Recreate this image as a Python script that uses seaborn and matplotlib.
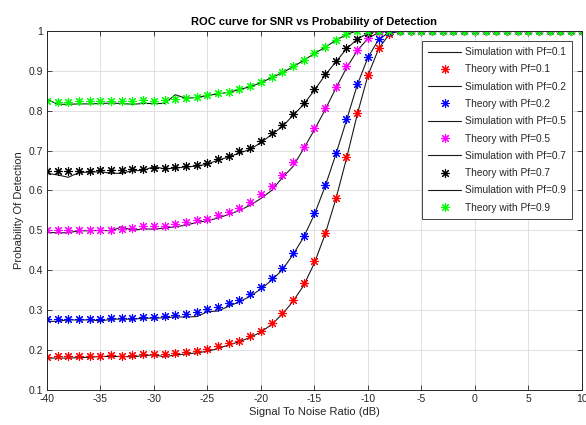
import matplotlib
matplotlib.use("Agg")
import matplotlib.pyplot as plt
from matplotlib.ticker import FormatStrFormatter
import seaborn as sns

# SNR axis (dB), one marker per integer dB
snr = list(range(-40, 11))

# Pf = 0.1
sim_01 = [0.180, 0.180, 0.180, 0.181, 0.182, 0.184, 0.184, 0.184, 0.183, 0.186,
          0.188, 0.183, 0.188, 0.190, 0.193, 0.197, 0.204, 0.213, 0.221, 0.232,
          0.245, 0.264, 0.290, 0.322, 0.362, 0.418, 0.490, 0.578, 0.680, 0.790,
          0.888, 0.955, 0.992, 1.0, 1.0, 1.0, 1.0, 1.0, 1.0, 1.0,
          1.0, 1.0, 1.0, 1.0, 1.0, 1.0, 1.0, 1.0, 1.0, 1.0, 1.0]
th_01 = [0.183, 0.184, 0.184, 0.184, 0.185, 0.185, 0.188, 0.185, 0.188, 0.190,
         0.190, 0.190, 0.192, 0.195, 0.198, 0.202, 0.209, 0.217, 0.224, 0.236,
         0.249, 0.268, 0.293, 0.326, 0.367, 0.424, 0.494, 0.582, 0.684, 0.793,
         0.890, 0.957, 0.993, 1.0, 1.0, 1.0, 1.0, 1.0, 1.0, 1.0,
         1.0, 1.0, 1.0, 1.0, 1.0, 1.0, 1.0, 1.0, 1.0, 1.0, 1.0]

# Pf = 0.2
sim_02 = [0.272, 0.272, 0.276, 0.275, 0.276, 0.273, 0.277, 0.278, 0.277, 0.280,
          0.280, 0.281, 0.283, 0.283, 0.284, 0.296, 0.298, 0.310, 0.321, 0.335,
          0.353, 0.375, 0.401, 0.439, 0.483, 0.540, 0.610, 0.690, 0.776, 0.864,
          0.933, 0.978, 0.997, 1.0, 1.0, 1.0, 1.0, 1.0, 1.0, 1.0,
          1.0, 1.0, 1.0, 1.0, 1.0, 1.0, 1.0, 1.0, 1.0, 1.0, 1.0]
th_02 = [0.278, 0.278, 0.278, 0.278, 0.278, 0.278, 0.281, 0.281, 0.281, 0.284,
         0.284, 0.285, 0.288, 0.290, 0.296, 0.302, 0.307, 0.318, 0.326, 0.340,
         0.358, 0.380, 0.406, 0.443, 0.487, 0.544, 0.614, 0.694, 0.780, 0.867,
         0.935, 0.980, 0.998, 1.0, 1.0, 1.0, 1.0, 1.0, 1.0, 1.0,
         1.0, 1.0, 1.0, 1.0, 1.0, 1.0, 1.0, 1.0, 1.0, 1.0, 1.0]

# Pf = 0.5
sim_05 = [0.495, 0.494, 0.494, 0.499, 0.499, 0.500, 0.499, 0.509, 0.500, 0.504,
          0.503, 0.506, 0.509, 0.513, 0.520, 0.524, 0.531, 0.540, 0.550, 0.563,
          0.580, 0.600, 0.632, 0.660, 0.705, 0.752, 0.802, 0.856, 0.907, 0.950,
          0.981, 0.996, 1.0, 1.0, 1.0, 1.0, 1.0, 1.0, 1.0, 1.0,
          1.0, 1.0, 1.0, 1.0, 1.0, 1.0, 1.0, 1.0, 1.0, 1.0, 1.0]
th_05 = [0.501, 0.501, 0.501, 0.501, 0.501, 0.501, 0.501, 0.503, 0.505, 0.510,
         0.510, 0.512, 0.516, 0.520, 0.525, 0.529, 0.539, 0.546, 0.557, 0.571,
         0.590, 0.611, 0.639, 0.672, 0.710, 0.757, 0.807, 0.860, 0.911, 0.952,
         0.982, 0.997, 1.0, 1.0, 1.0, 1.0, 1.0, 1.0, 1.0, 1.0,
         1.0, 1.0, 1.0, 1.0, 1.0, 1.0, 1.0, 1.0, 1.0, 1.0, 1.0]

# Pf = 0.7
sim_07 = [0.643, 0.639, 0.633, 0.645, 0.646, 0.647, 0.643, 0.643, 0.650, 0.650,
          0.660, 0.654, 0.656, 0.659, 0.661, 0.666, 0.676, 0.684, 0.694, 0.703,
          0.720, 0.740, 0.760, 0.788, 0.816, 0.851, 0.889, 0.922, 0.955, 0.979,
          0.994, 1.0, 1.0, 1.0, 1.0, 1.0, 1.0, 1.0, 1.0, 1.0,
          1.0, 1.0, 1.0, 1.0, 1.0, 1.0, 1.0, 1.0, 1.0, 1.0, 1.0]
th_07 = [0.650, 0.650, 0.650, 0.650, 0.650, 0.652, 0.652, 0.652, 0.653, 0.653,
         0.656, 0.657, 0.660, 0.662, 0.664, 0.670, 0.679, 0.687, 0.698, 0.707,
         0.724, 0.744, 0.764, 0.792, 0.820, 0.855, 0.892, 0.925, 0.957, 0.980,
         0.995, 1.0, 1.0, 1.0, 1.0, 1.0, 1.0, 1.0, 1.0, 1.0,
         1.0, 1.0, 1.0, 1.0, 1.0, 1.0, 1.0, 1.0, 1.0, 1.0, 1.0]

# Pf = 0.9
sim_09 = [0.829, 0.816, 0.816, 0.817, 0.817, 0.818, 0.819, 0.818, 0.816, 0.818,
          0.818, 0.818, 0.840, 0.831, 0.833, 0.838, 0.842, 0.846, 0.853, 0.860,
          0.870, 0.883, 0.895, 0.910, 0.926, 0.943, 0.959, 0.976, 0.991, 1.0,
          1.0, 1.0, 1.0, 1.0, 1.0, 1.0, 1.0, 1.0, 1.0, 1.0,
          1.0, 1.0, 1.0, 1.0, 1.0, 1.0, 1.0, 1.0, 1.0, 1.0, 1.0]
th_09 = [0.823, 0.821, 0.821, 0.823, 0.823, 0.824, 0.825, 0.825, 0.824, 0.826,
         0.825, 0.827, 0.829, 0.831, 0.835, 0.840, 0.844, 0.848, 0.855, 0.862,
         0.872, 0.885, 0.897, 0.912, 0.928, 0.945, 0.960, 0.977, 0.992, 1.0,
         1.0, 1.0, 1.0, 1.0, 1.0, 1.0, 1.0, 1.0, 1.0, 1.0,
         1.0, 1.0, 1.0, 1.0, 1.0, 1.0, 1.0, 1.0, 1.0, 1.0, 1.0]

pf_labels = ["0.1", "0.2", "0.5", "0.7", "0.9"]
sims = [sim_01, sim_02, sim_05, sim_07, sim_09]
theories = [th_01, th_02, th_05, th_07, th_09]
colors = ["#ff0000", "#0000ff", "#ff00ff", "#000000", "#00ff00"]

sns.set_theme(style="ticks")
plt.rcParams["font.family"] = ["Liberation Sans", "DejaVu Sans"]
plt.rcParams["axes.unicode_minus"] = False
axcol = "#262626"

fig = plt.figure(figsize=(5.86, 4.25), dpi=100)
ax = fig.add_axes([0.080, 0.0824, 0.913, 0.845])

for pf, sim, th, c in zip(pf_labels, sims, theories, colors):
    sns.lineplot(x=snr, y=sim, ax=ax, color="#1a1a1a", linewidth=0.8,
                 label="Simulation with Pf=" + pf)
    sns.lineplot(x=snr, y=th, ax=ax, linestyle="none", marker=(8, 2, 0),
                 markersize=6.5, markeredgewidth=0.8, color=c, markeredgecolor=c,
                 label="Theory with Pf=" + pf)

ax.set_xlim(-40, 10)
ax.set_ylim(0.1, 1.0)
ax.set_xticks(list(range(-40, 11, 5)))
ax.set_yticks([0.1, 0.2, 0.3, 0.4, 0.5, 0.6, 0.7, 0.8, 0.9, 1.0])
ax.yaxis.set_major_formatter(FormatStrFormatter("%g"))
ax.grid(True, color="#dcdcdc", linewidth=0.6)
ax.tick_params(direction="in", length=3.5, width=0.6, colors=axcol,
               labelsize=7.5, top=True, right=True, pad=3)
for s in ax.spines.values():
    s.set_color(axcol)
    s.set_linewidth(0.7)

ax.set_title("ROC curve for SNR vs Probability of Detection", fontsize=8,
             fontweight="bold", color="black", pad=4)
ax.set_xlabel("Signal To Noise Ratio (dB)", fontsize=8, color=axcol, labelpad=2)
ax.set_ylabel("Probability Of Detection", fontsize=8, color=axcol, labelpad=3)

leg = ax.legend(loc="upper right", fontsize=7.3, frameon=True, fancybox=False,
                framealpha=1, edgecolor=axcol, handlelength=3.2,
                handletextpad=0.4, labelspacing=0.72, borderaxespad=1.0,
                borderpad=0.6)
leg.get_frame().set_linewidth(0.6)

fig.savefig("out.png", dpi=100)
